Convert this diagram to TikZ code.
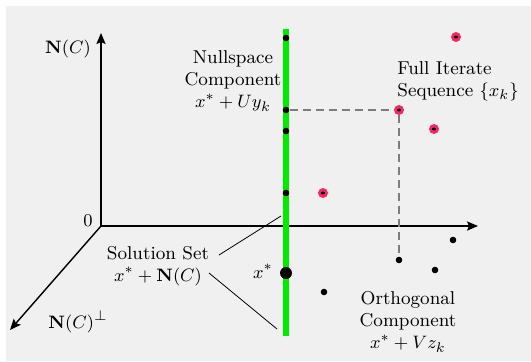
\documentclass[tikz,border=0pt]{standalone}
\usetikzlibrary{arrows.meta}
\definecolor{bgg}{RGB}{240,240,240}
\definecolor{pinkd}{RGB}{245,40,100}
\definecolor{greenl}{RGB}{0,235,0}
\definecolor{dashg}{RGB}{125,125,125}
\begin{document}
\begin{tikzpicture}[x=0.5pt,y=-0.5pt,
  axis/.style={line width=0.7pt,-{Stealth[length=5.5pt,width=4.6pt,inset=1pt]}},
  bdot/.style={circle,fill=black,inner sep=0pt,minimum size=3.3pt},
  bigdot/.style={circle,fill=black,inner sep=0pt,minimum size=6pt},
  pdot/.style={circle,fill=pinkd,inner sep=0pt,minimum size=5pt,
    path picture={\fill[black] (path picture bounding box.center) ellipse (1.1pt and 0.7pt);}},
  lbl/.style={inner sep=0pt,font=\fontsize{9.3}{11}\selectfont},
  leader/.style={line width=0.4pt},
  dashl/.style={dashg,line width=0.65pt,dash pattern=on 4pt off 2.5pt}]
\useasboundingbox (0,0) rectangle (531,361);
\fill[white] (0,0) rectangle (531,361);
\fill[bgg] (6,6) rectangle (531,361);
% axes
\coordinate (O) at (101,226);
\coordinate (yt) at (101,33);
\coordinate (xt) at (478,226);
\coordinate (zt) at (10,330);
\draw[axis] (O) -- (yt);
\draw[axis] (O) -- (xt);
\draw[axis] (O) -- (zt);
% green solution line
\coordinate (gt) at (286,29);
\coordinate (gb) at (286,336);
\draw[greenl,line width=2.6pt] (gt) -- (gb);
% dots on the green line
\node[bdot] (n1) at (286,38) {};
\node[bdot] (n2) at (286,110) {};
\node[bdot] (n3) at (286,131) {};
\node[bdot] (n4) at (286,193) {};
\node[bigdot] (xs) at (286,273) {};
% iterates
\node[pdot] (p1) at (456,37) {};
\node[pdot] (p2) at (399,110) {};
\node[pdot] (p3) at (434,129) {};
\node[pdot] (p4) at (323,193) {};
% orthogonal components
\node[bdot] (o1) at (399,260) {};
\node[bdot] (o2) at (453,240) {};
\node[bdot] (o3) at (435,270) {};
\node[bdot] (o4) at (324,292) {};
% dashed projections
\draw[dashl] (n2) -- (p2);
\draw[dashl] (p2) -- (o1);
% labels
\node[lbl] (lNC) at (68,49) {$\mathbf{N}(C)$};
\node[lbl] (l0) at (88,221) {$0$};
\node[lbl] (lNCp) at (78,322) {$\mathbf{N}(C)^{\perp}$};
\node[lbl,align=center] (lnull) at (233,81) {Nullspace\\Component\\$x^{*}+Uy_k$};
\node[lbl,align=left,anchor=west] (lfull) at (397,81) {Full Iterate\\Sequence $\{x_k\}$};
\node[lbl,align=center] (lsol) at (158,266) {Solution Set\\$x^{*}+\mathbf{N}(C)$};
\node[lbl] (lxs) at (263,271) {$x^{*}$};
\node[lbl,align=center] (lorth) at (408,322) {Orthogonal\\Component\\$x^{*}+Vz_k$};
% leader lines
\coordinate (a1) at (219,255);
\coordinate (a2) at (281,216);
\coordinate (b1) at (209,273);
\coordinate (b2) at (277,329);
\draw[leader] (a1) -- (a2);
\draw[leader] (b1) -- (b2);
\end{tikzpicture}
\end{document}
